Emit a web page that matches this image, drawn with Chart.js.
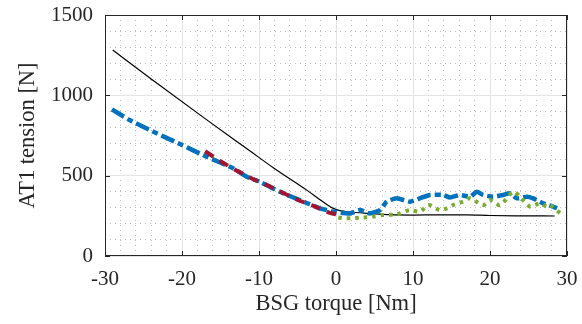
<!DOCTYPE html>
<html>
<head>
<meta charset="utf-8">
<script src="https://cdn.jsdelivr.net/npm/chart.js@4"></script>
<style>
  html, body { margin: 0; padding: 0; background: #fff; }
  #wrap { width: 582px; height: 324px; }
</style>
</head>
<body>
<div id="wrap"><canvas id="mainChart"></canvas></div>
<script>
// Values
const blackTorque  = [-29, -24, -17, -11.2, -8.1, -3.8, -1.7, -0.4, 0.5, 1.8, 4.4, 7, 10, 13.5, 17, 20, 24, 28.4];
const blackTension = [1282, 1102, 855, 655, 548, 410, 338, 298, 282, 274, 265, 257, 255, 256, 256, 252, 250, 249];

const blueTorque  = [-29.1, -26.8, -23.3, -20, -16.8, -13.3, -11.6, -9.9, -7.3, -4.7, -2.1, 0.1, 1.8, 3.1, 4.4, 5.7, 6.6, 7.9,
                     9.6, 10.9, 12.2, 13.9, 14.8, 16.1, 17.4, 18.3, 19.1, 20.4, 21.7, 22.6, 23.5, 24.8, 25.6, 26.9, 28.2, 28.7];
const blueTension = [913, 846, 764, 691, 618, 545, 493, 462, 400, 348, 297, 272, 265, 286, 265, 286, 338, 359,
                     338, 359, 380, 380, 364, 380, 369, 400, 380, 369, 380, 390, 359, 369, 359, 328, 307, 297];

const redTorque  = [-17, -15, -13, -11, -8.2, -5.1, -3, -0.8, 0];
const redTension = [652, 590, 534, 484, 424, 352, 313, 268, 260];

const greenTorque  = [0.3, 0.9, 2.2, 3.5, 4.8, 6.1, 7.9, 9.6, 10.9, 12.0, 13.5, 14.4, 15.2, 16.5, 17.4, 19.1, 20, 21.3,
                      23.0, 23.9, 25.2, 26.5, 27.4, 27.8, 29.1];
const greenTension = [240, 235, 235, 240, 245, 255, 259, 286, 276, 317, 286, 297, 317, 338, 359, 317, 348, 317,
                      400, 369, 307, 328, 307, 317, 266];

const xTicks = [-30, -20, -10, 0, 10, 20, 30];
const yTicks = [0, 500, 1000, 1500];

const textColor = '#262626';
const serif = 'Liberation Serif';

function toPoints(xs, ys) {
    return xs.map((x, i) => ({ x: x, y: ys[i] }));
}

// box around the axes with inward ticks, like the original
const boxPlugin = {
    id: 'box',
    afterDraw(chart) {
        const { ctx, chartArea: a, scales } = chart;
        ctx.save();
        ctx.strokeStyle = textColor;
        ctx.lineWidth = 1;
        ctx.strokeRect(a.left + 0.5, a.top + 0.5, a.right - a.left - 1, a.bottom - a.top - 1);
        const len = 5;
        ctx.beginPath();
        xTicks.forEach(v => {
            const px = Math.round(scales.x.getPixelForValue(v)) + 0.5;
            ctx.moveTo(px, a.top); ctx.lineTo(px, a.top + len);
            ctx.moveTo(px, a.bottom); ctx.lineTo(px, a.bottom - len);
        });
        yTicks.forEach(v => {
            const py = Math.round(scales.y.getPixelForValue(v)) + 0.5;
            ctx.moveTo(a.left, py); ctx.lineTo(a.left + len, py);
            ctx.moveTo(a.right, py); ctx.lineTo(a.right - len, py);
        });
        ctx.stroke();
        ctx.restore();
    }
};

const ctx = document.getElementById('mainChart').getContext('2d');
new Chart(ctx, {
    type: 'line',
    data: {
        datasets: [
            {
                data: toPoints(blackTorque, blackTension),
                borderColor: '#000000',
                borderWidth: 1.2,
                pointRadius: 0,
                cubicInterpolationMode: 'monotone',
                order: 4
            },
            {
                data: toPoints(blueTorque, blueTension),
                borderColor: '#0072BD',
                borderWidth: 4.5,
                borderDash: [14, 4, 6, 4],
                pointRadius: 0,
                tension: 0.2,
                order: 3
            },
            {
                data: toPoints(redTorque, redTension),
                borderColor: '#A2142F',
                borderWidth: 4,
                borderDash: [10, 7],
                pointRadius: 0,
                tension: 0.2,
                order: 1
            },
            {
                data: toPoints(greenTorque, greenTension),
                borderColor: '#77AC30',
                borderWidth: 4,
                borderDash: [3.5, 5],
                pointRadius: 0,
                tension: 0.3,
                order: 2
            }
        ]
    },
    options: {
        responsive: true,
        maintainAspectRatio: false,
        animation: false,
        layout: { padding: { top: 15, right: 15, left: 0, bottom: 0 } },
        plugins: {
            legend: { display: false },
            tooltip: { enabled: false }
        },
        scales: {
            xMinor: {
                type: 'linear',
                position: 'bottom',
                min: -30, max: 30,
                ticks: { display: false, stepSize: 2 },
                grid: { color: '#bdbdbd', drawTicks: false },
                border: { display: false, dash: [1, 4] },
                afterFit: (axis) => { axis.height = 0; }
            },
            yMinor: {
                type: 'linear',
                position: 'left',
                min: 0, max: 1500,
                ticks: { display: false, stepSize: 100 },
                grid: { color: '#bdbdbd', drawTicks: false },
                border: { display: false, dash: [1, 4] },
                afterFit: (axis) => { axis.width = 0; }
            },
            x: {
                type: 'linear',
                min: -30, max: 30,
                afterBuildTicks: (axis) => { axis.ticks = xTicks.map(v => ({ value: v })); },
                ticks: {
                    color: textColor,
                    padding: 11,
                    maxRotation: 0,
                    callback: (v) => String(v),
                    font: { family: serif, size: 21 }
                },
                grid: { color: '#e3e3e3', drawTicks: false },
                border: { display: false },
                title: {
                    display: true,
                    text: 'BSG torque [Nm]',
                    color: textColor,
                    font: { family: serif, size: 22.5 },
                    padding: { top: 0, bottom: 6 }
                },
                afterFit: (axis) => {
                    axis.height = 68;
                    axis.paddingLeft = 0;
                    axis.paddingRight = 0;
                }
            },
            y: {
                type: 'linear',
                min: 0, max: 1500,
                afterBuildTicks: (axis) => { axis.ticks = yTicks.map(v => ({ value: v })); },
                ticks: {
                    color: textColor,
                    padding: 12,
                    callback: (v) => String(v),
                    font: { family: serif, size: 21 }
                },
                grid: { color: '#e3e3e3', drawTicks: false },
                border: { display: false },
                title: {
                    display: true,
                    text: 'AT1 tension [N]',
                    color: textColor,
                    font: { family: serif, size: 22.5 },
                    padding: { top: 15, bottom: 0 }
                },
                afterFit: (axis) => {
                    axis.width = 105;
                    axis.paddingTop = 0;
                    axis.paddingBottom = 0;
                }
            }
        }
    },
    plugins: [boxPlugin]
});
</script>
</body>
</html>
